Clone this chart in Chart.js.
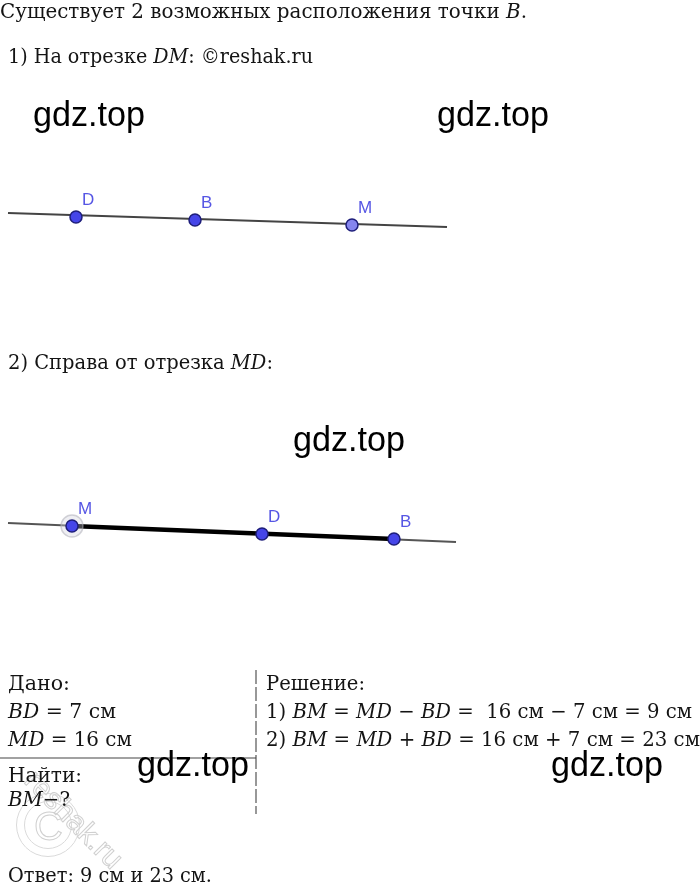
<!DOCTYPE html>
<html>
<head>
<meta charset="utf-8">
<script src="https://cdn.jsdelivr.net/npm/chart.js@4"></script>
<style>
  body { margin: 0; background: #fff; }
  #page { position: relative; width: 700px; height: 884px; overflow: hidden; }
  #page canvas { position: absolute; left: 0; top: 0; }
  .t { position: absolute; white-space: pre; font-family: "DejaVu Serif", serif; font-size: 21px; line-height: 21px; color: #141414; transform-origin: 0 0; }
  .s { font-size: 20px; line-height: 20px; }
  .t i { font-style: italic; }
  .wm { position: absolute; font-family: "Liberation Sans", Arial, sans-serif; font-size: 35px; line-height: 35px; color: #000; transform-origin: 0 0; }
  .ring { position: absolute; border: 1.5px solid #dadada; border-radius: 50%; box-sizing: border-box; }
  .rs { position: absolute; font-family: "Liberation Sans", Arial, sans-serif; color: transparent; -webkit-text-stroke: 1px #d0d0d0; white-space: pre; }
</style>
</head>
<body>
<div id="page">
  <canvas id="chart" width="700" height="884"></canvas>

  <div class="ring" style="left:16px;top:793px;width:64px;height:64px"></div>
  <div class="ring" style="left:24px;top:801px;width:48px;height:48px"></div>
  <div class="rs" style="left:34px;top:806px;font-size:40px;line-height:40px">C</div>
  <div class="rs" style="left:30px;top:760px;font-size:30px;line-height:30px;transform:rotate(45deg);transform-origin:0 50%">reshak.ru</div>

  <div class="t" data-w="527" style="left:0px;top:1px">Существует 2 возможных расположения точки <i>B</i>.</div>
  <div class="t" data-w="305" style="left:8px;top:46px">1) На отрезке <i>DM</i>: ©reshak.ru</div>
  <div class="t" data-w="265" style="left:8px;top:352px">2) Справа от отрезка <i>MD</i>:</div>

  <div class="t s" data-w="62" style="left:8px;top:673px">Дано:</div>
  <div class="t s" data-w="108" style="left:8px;top:701px"><i>BD</i> = 7 см</div>
  <div class="t s" data-w="124" style="left:8px;top:729px"><i>MD</i> = 16 см</div>
  <div class="t s" data-w="74" style="left:8px;top:765px">Найти:</div>
  <div class="t s" data-w="62" style="left:8px;top:789px"><i>BM</i>−?</div>

  <div class="t s" data-w="99" style="left:266px;top:673px">Решение:</div>
  <div class="t s" data-w="426" style="left:266px;top:701px">1) <i>BM</i> = <i>MD</i> − <i>BD</i> =  16 см − 7 см = 9 см</div>
  <div class="t s" data-w="434" style="left:266px;top:729px">2) <i>BM</i> = <i>MD</i> + <i>BD</i> = 16 см + 7 см = 23 см</div>

  <div class="t s" data-w="204" style="left:8px;top:865px">Ответ: 9 см и 23 см.</div>

  <div class="wm" data-w="112" style="left:33px;top:96px">gdz.top</div>
  <div class="wm" data-w="112" style="left:437px;top:96px">gdz.top</div>
  <div class="wm" data-w="112" style="left:293px;top:421px">gdz.top</div>
  <div class="wm" data-w="112" style="left:137px;top:746px">gdz.top</div>
  <div class="wm" data-w="112" style="left:551px;top:746px">gdz.top</div>
</div>
<script>
// figure 1: point B on segment DM
const line1X = [8, 447];
const line1Y = [213, 227];
const names1 = ['D', 'B', 'M'];
const pointX1 = [76, 195, 352];
const pointY1 = [217, 220, 225];

// figure 2: point B to the right of MD
const line2X = [8, 456];
const line2Y = [523, 542];
const names2 = ['M', 'D', 'B'];
const pointX2 = [72, 262, 394];
const pointY2 = [526, 534, 539];

// given / solution layout lines
const sepX = [0, 256];
const sepY = [758, 758];
const dashX = [256, 256];
const dashY = [670, 814];

const pts = (xs, ys) => xs.map((x, i) => ({ x: x, y: ys[i] }));

// fit each text line to its width in the picture
document.querySelectorAll('.t, .wm').forEach(el => {
  const w = el.getBoundingClientRect().width;
  el.style.transform = 'scaleX(' + (el.dataset.w / w) + ')';
});

const labelPlugin = {
  id: 'pointLabels',
  afterDatasetsDraw(chart) {
    const ctx = chart.ctx;
    ctx.save();
    ctx.font = '17px "Liberation Sans", Arial, sans-serif';
    ctx.fillStyle = '#5656e4';
    ctx.textBaseline = 'alphabetic';
    chart.data.datasets.forEach((ds, i) => {
      if (!ds.names) return;
      chart.getDatasetMeta(i).data.forEach((el, j) => {
        ctx.fillText(ds.names[j], el.x + 6, el.y - 12);
      });
    });
    ctx.restore();
  }
};

const blue = '#4545e8';
const lightBlue = '#8585ee';
const m2 = pts(pointX2, pointY2);

// lower "order" is drawn on top
new Chart(document.getElementById('chart'), {
  type: 'scatter',
  data: {
    datasets: [
      { order: 5, data: pts(line1X, line1Y), showLine: true, borderColor: '#444', borderWidth: 2, pointRadius: 0 },
      { order: 5, data: pts(line2X, line2Y), showLine: true, borderColor: '#555', borderWidth: 2, pointRadius: 0 },
      { order: 3, data: [m2[0], m2[2]], showLine: true, borderColor: '#000', borderWidth: 4.5, pointRadius: 0 },
      { order: 5, data: pts(sepX, sepY), showLine: true, borderColor: '#444', borderWidth: 1.2, pointRadius: 0 },
      { order: 5, data: pts(dashX, dashY), showLine: true, borderColor: '#777', borderWidth: 1.5, borderDash: [14, 3], pointRadius: 0 },
      { order: 2, data: [m2[0]], pointRadius: 11, backgroundColor: 'rgba(210,210,220,0.35)', borderColor: 'rgba(170,170,180,0.5)', borderWidth: 1.5 },
      { order: 1, data: pts(pointX1, pointY1), names: names1, pointRadius: 6, borderWidth: 1.5,
        backgroundColor: [blue, blue, lightBlue], borderColor: '#1e1e7a' },
      { order: 1, data: m2, names: names2, pointRadius: 6, borderWidth: 1.5,
        backgroundColor: [blue, blue, blue], borderColor: '#1e1e7a' }
    ]
  },
  options: {
    responsive: false,
    animation: false,
    layout: { padding: 0, autoPadding: false },
    plugins: { legend: { display: false }, tooltip: { enabled: false } },
    scales: {
      x: { type: 'linear', min: 0, max: 700, display: false },
      y: { type: 'linear', min: 0, max: 884, reverse: true, display: false }
    }
  },
  plugins: [labelPlugin]
});
</script>
</body>
</html>
